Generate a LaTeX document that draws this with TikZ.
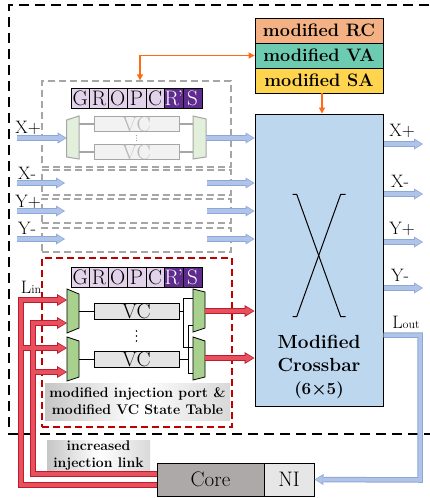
\documentclass[tikz,border=0pt]{standalone}
\usepackage{fontspec}
\usetikzlibrary{arrows.meta,calc}
\definecolor{rcC}{HTML}{F4B183}
\definecolor{vaC}{HTML}{6DCBB2}
\definecolor{saC}{HTML}{FFD54F}
\definecolor{xbC}{HTML}{BDD7EE}
\definecolor{orC}{HTML}{FF6A13}
\definecolor{gdC}{HTML}{A6A6A6}
\definecolor{rdC}{HTML}{C00000}
\definecolor{blF}{HTML}{AFC4E8}
\definecolor{blE}{HTML}{8CA8D8}
\definecolor{reF}{HTML}{E8505E}
\definecolor{reE}{HTML}{B81E30}
\definecolor{lpC}{HTML}{E2D3EA}
\definecolor{dpC}{HTML}{5F2B8E}
\definecolor{grF}{HTML}{A9D18E}
\definecolor{grL}{HTML}{E2EFDA}
\definecolor{vcF}{HTML}{E4E4E4}
\definecolor{vcL}{HTML}{F2F2F2}
\definecolor{coreC}{HTML}{ADA9A8}
\definecolor{niC}{HTML}{E6E6E6}
\newcommand\bluenet[1]{%
  \draw[#1] (inXp) -- (mXp);
  \draw[#1] (inXm) -- (mXm);
  \draw[#1] (inYp) -- (mYp);
  \draw[#1] (inYm) -- (mYm);
  \draw[#1] (oXp) -- (xbar.west |- oXp);
  \draw[#1] (oXm) -- (xbar.west |- oXm);
  \draw[#1] (oYp) -- (xbar.west |- oYp);
  \draw[#1] (oYm) -- (xbar.west |- oYm);
  \draw[#1] (xbar.east |- 0,144) -- (rXp);
  \draw[#1] (xbar.east |- 0,194) -- (rXm);
  \draw[#1] (xbar.east |- 0,242) -- (rYp);
  \draw[#1] (xbar.east |- 0,288) -- (rYm);
  \draw[#1] (xbar.east |- 0,335) -- (420,335) -- (420,480) -- (ni.east);
}
\newcommand\rednet[1]{%
  \draw[#1] (core.west |- 0,485) -- (21,485) -- (21,300) -- (ml1a);
  \draw[#1] (21,348) -- (ml2a);
  \draw[#1] (core.west |- 0,474) -- (33,474) -- (33,323) -- (ml1b);
  \draw[#1] (33,372) -- (ml2b);
  \draw[#1] (mr1o) -- (xbar.west |- mr1o);
  \draw[#1] (mr2o) -- (xbar.west |- mr2o);
}
\begin{document}
\begin{tikzpicture}[x=1pt,y=-1pt,line join=miter,
  pipe/.style={draw=black,line width=0.8pt,minimum width=128pt,minimum height=25pt,inner sep=0pt,font=\fontsize{18}{20}\selectfont\bfseries},
  gbox/.style={draw=gdC,line width=1.3pt,dash pattern=on 7pt off 4pt,inner sep=0pt},
  rbox/.style={draw=rdC,line width=1.3pt,dash pattern=on 7pt off 4pt,inner sep=0pt},
  outerdash/.style={draw=black,line width=1.3pt,dash pattern=on 10pt off 6pt},
  cell/.style={draw=black,line width=0.6pt,minimum width=18.7pt,minimum height=20pt,inner sep=0pt,font=\fontsize{21}{21}\selectfont},
  vcbox/.style={draw=black,line width=0.9pt,fill=vcF,minimum width=85pt,minimum height=16pt,inner sep=0pt,font=\fontsize{21}{21}\selectfont},
  vcfade/.style={draw=gdC,line width=1pt,fill=vcL,text=gdC!80,minimum width=85pt,minimum height=15.5pt,inner sep=0pt,font=\fontsize{21}{21}\selectfont},
  muxbox/.style={draw=black,line width=0.8pt,fill=grF},
  muxfade/.style={draw=gdC,line width=1pt,fill=grL},
  wire/.style={draw=black,line width=0.9pt},
  wirefade/.style={draw=gdC,line width=1.2pt},
  bO/.style={draw=blE,line width=5.5pt,-{Triangle[length=9pt,width=11pt,line width=0pt]}},
  bF/.style={draw=blF,line width=3.5pt,shorten >=1.2pt,-{Triangle[length=6.8pt,width=7.8pt,line width=0pt]}},
  rO/.style={draw=reE,line width=6pt,-{Triangle[length=10pt,width=12pt,line width=0pt]}},
  rF/.style={draw=reF,line width=4pt,shorten >=1.2pt,-{Triangle[length=7.8pt,width=8.6pt,line width=0pt]}},
  orarrow/.style={draw=orC,line width=1.2pt},
  lbl/.style={font=\fontsize{18}{18}\selectfont,inner sep=0pt},
  shadelbl/.style={left color=gray!45,right color=gray!30,middle color=white,inner sep=0pt,align=center,font=\fontsize{14}{17}\selectfont\bfseries}
]
\useasboundingbox (0,0) rectangle (429,498);
\fill[white] (0,0) rectangle (429,498);

% outer dashed router frame
\draw[outerdash] (445,5) -- (9,5) -- (9,434) -- (445,434);

% pipeline stages
\node[pipe,fill=rcC] (rc) at (319,30.5) {modified RC};
\node[pipe,fill=vaC] (va) at (319,55.5) {modified VA};
\node[pipe,fill=saC] (sa) at (319,80.5) {modified SA};

% crossbar
\node[draw=black,fill=xbC,line width=1pt,minimum width=128pt,minimum height=292pt,inner sep=0pt] (xbar) at (319,260) {};
\draw[line width=1pt] (292.7,194.3) -- (296.7,194.3) -- (340.7,316.7) -- (345.7,316.7);
\draw[line width=1pt] (345.7,194.3) -- (340.7,194.3) -- (296.7,316.7) -- (292.7,316.7);
\node[align=center,font=\fontsize{19}{23}\selectfont\bfseries\boldmath] (xbt) at (319,367) {Modified\\Crossbar\\{\fontsize{17}{23}\selectfont(6$\times$5)}};

% input port boxes
\node[gbox,minimum width=189pt,minimum height=86pt] (bxp) at (136.5,124) {};
\node[gbox,minimum width=189pt,minimum height=25pt] (bxm) at (136.5,182.5) {};
\node[gbox,minimum width=189pt,minimum height=24pt] (byp) at (136.5,211) {};
\node[gbox,minimum width=189pt,minimum height=24pt] (bym) at (136.5,240) {};
\node[rbox,minimum width=190pt,minimum height=169pt] (bl) at (137,342.5) {};

% registers
\foreach \t [count=\i from 0] in {G,R,O,P,C} {
  \node[cell,fill=lpC] (ra\i) at (80.35+18.7*\i,98) {\t};
  \node[cell,fill=lpC] (rb\i) at (80.35+18.7*\i,277) {\t};
}
\node[cell,fill=dpC,text=white] (ra5) at (173.85,98) {R\kern-1pt'};
\node[cell,fill=dpC,text=white] (ra6) at (192.55,98) {S};
\node[cell,fill=dpC,text=white] (rb5) at (173.85,277) {R\kern-1pt'};
\node[cell,fill=dpC,text=white] (rb6) at (192.55,277) {S};

% faded X+ port internals
\node[vcfade] (vg1) at (136.5,124) {VC};
\node[vcfade] (vg2) at (136.5,152) {VC};
\draw[muxfade] (66.7,120) -- (79,116) -- (79,159) -- (66.7,157) -- cycle;
\draw[muxfade] (193,116) -- (206,119) -- (206,157) -- (193,159) -- cycle;
\coordinate (gml) at (79,0);
\coordinate (gmr) at (193,0);
\draw[wirefade] (gml |- vg1.west) -- (vg1.west);
\draw[wirefade] (gml |- vg2.west) -- (vg2.west);
\draw[wirefade] (vg1.east) -- (gmr |- vg1.east);
\draw[wirefade] (vg2.east) -- (gmr |- vg2.east);
\fill[gdC] (136.5,135.5) circle (0.6) (136.5,138) circle (0.6) (136.5,140.5) circle (0.6);

% local (injection) port internals
\node[vcbox] (vr1) at (136.5,311) {VC};
\node[vcbox] (vr2) at (136.5,359.5) {VC};
\draw[muxbox] (67,289) -- (79,294) -- (79,328) -- (67,333) -- cycle;
\draw[muxbox] (67,337) -- (79,341) -- (79,377) -- (67,381) -- cycle;
\draw[muxbox] (193,289) -- (205,292) -- (205,328) -- (193,332) -- cycle;
\draw[muxbox] (193,337) -- (205,341) -- (205,377) -- (193,380) -- cycle;
\coordinate (ml1a) at (67,300);
\coordinate (ml1b) at (67,323);
\coordinate (ml2a) at (67,348);
\coordinate (ml2b) at (67,372);
\coordinate (mr1o) at (205,311);
\coordinate (mr2o) at (205,358);
\draw[wire] (79,311) -- (vr1.west);
\draw[wire] (79,359.5) -- (vr2.west);
\draw[wire] (vr1.east) -- (183,311);
\draw[wire] (193,298) -- (183,298) -- (183,347) -- (193,347);
\draw[wire] (vr2.east) -- (188,359.5);
\draw[wire] (193,325) -- (188,325) -- (188,373) -- (193,373);
\fill (136.5,331) circle (0.8) (136.5,336) circle (0.8) (136.5,341) circle (0.8);

\node[shadelbl,minimum width=185pt,minimum height=37pt] (injlbl) at (137.5,401.5) {modified injection port \&\\modified VC State Table};

% core and NI
\node[draw=black,fill=coreC,line width=1pt,minimum width=107pt,minimum height=33pt,inner sep=0pt,font=\fontsize{21}{21}\selectfont] (core) at (210.5,479.5) {Core};
\node[draw=black,fill=niC,line width=1pt,minimum width=50pt,minimum height=33pt,inner sep=0pt,font=\fontsize{21}{21}\selectfont] (ni) at (289,479.5) {NI};
\node[shadelbl,minimum width=103pt,minimum height=31pt] (inclbl) at (98.5,455.5) {increased\\injection link};

% arrow end points
\coordinate (inXp) at (17,138); \coordinate (mXp) at (66.7,138);
\coordinate (inXm) at (17,183); \coordinate (mXm) at (65,183);
\coordinate (inYp) at (17,211); \coordinate (mYp) at (65,211);
\coordinate (inYm) at (17,239); \coordinate (mYm) at (65,239);
\coordinate (oXp) at (206,138);
\coordinate (oXm) at (207,183);
\coordinate (oYp) at (207,211);
\coordinate (oYm) at (207,239);
\coordinate (rXp) at (423,144);
\coordinate (rXm) at (423,194);
\coordinate (rYp) at (423,242);
\coordinate (rYm) at (423,288);

\bluenet{bO}
\bluenet{bF}
\rednet{rO}
\rednet{rF}

% orange control arrows
\draw[orarrow,{Triangle[length=6pt,width=6pt]}-{Triangle[length=6pt,width=6pt]}] ([xshift=3.5pt]bxp.north) |- (va.west);
\draw[orarrow,-{Triangle[length=6pt,width=6pt]}] ([xshift=3pt]sa.south) -- ([xshift=3pt]xbar.north);

% labels
\node[lbl] (lxp) at (28,128) {X+};
\node[lbl] (lxm) at (27,173) {X-};
\node[lbl] (lyp) at (28,202) {Y+};
\node[lbl] (lym) at (27,228) {Y-};
\node[lbl] (lin) at (31,287) {L{\fontsize{12}{12}\selectfont in}};
\node[lbl] (rxp) at (402,131) {X+};
\node[lbl] (rxm) at (400,181) {X-};
\node[lbl] (ryp) at (402,229) {Y+};
\node[lbl] (rym) at (400,275) {Y-};
\node[lbl] (lout) at (406,322) {L{\fontsize{12}{12}\selectfont out}};
\end{tikzpicture}
\end{document}
